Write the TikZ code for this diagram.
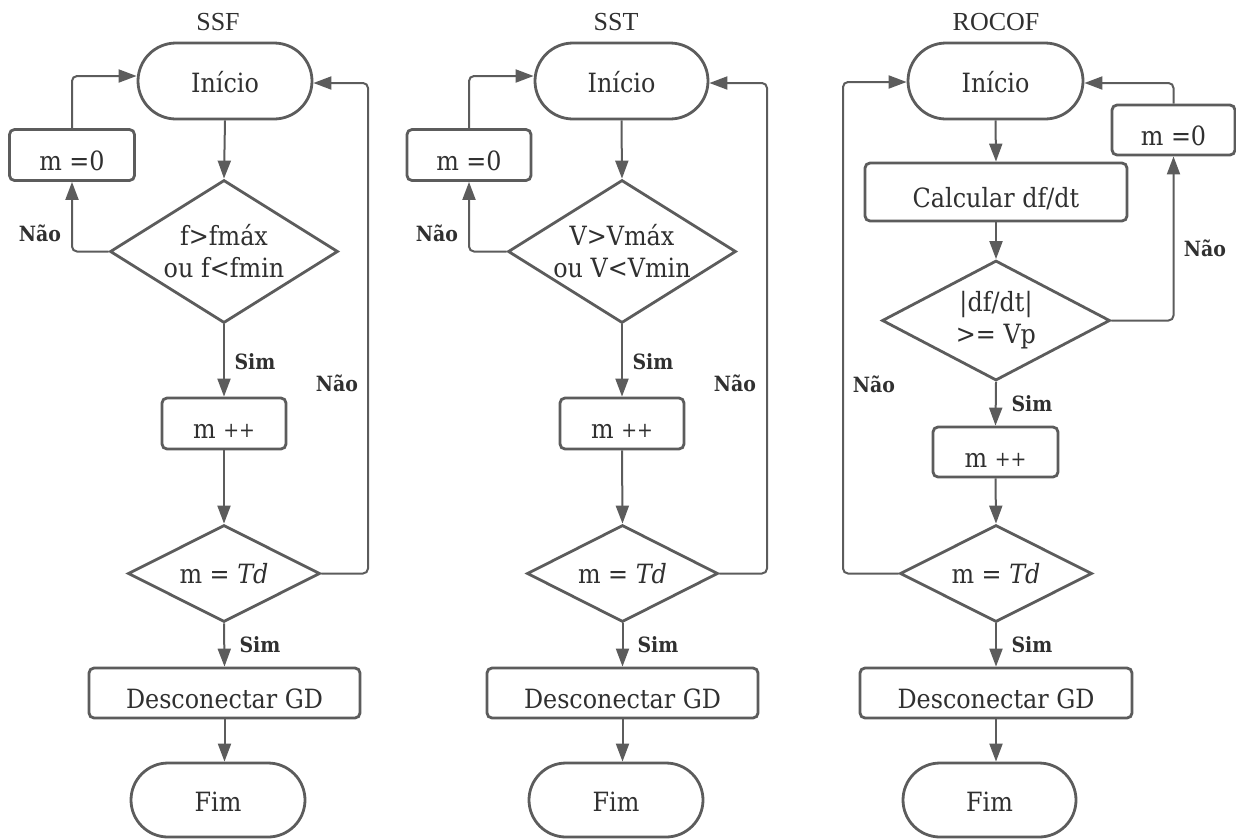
\documentclass[tikz,border=0pt]{standalone}
\usepackage{fontspec}
\setmainfont{DejaVu Serif}[FakeStretch=0.9]
\newfontfamily\titlefont{Liberation Serif}
\usetikzlibrary{shapes.geometric,shapes.misc,arrows.meta}
\definecolor{linec}{RGB}{92,92,92}
\definecolor{txtc}{RGB}{48,48,48}
\newcommand{\incr}{m \raisebox{1pt}{\fontsize{21}{21}\selectfont ++}}

\begin{document}
\begin{tikzpicture}[x=1pt,y=-1pt,
  base/.style={draw=linec, line width=2.8pt, fill=white, text=txtc,
    font=\fontsize{26.5}{32}\selectfont, inner sep=0pt},
  size/.style 2 args={minimum width=#1pt, minimum height=#2pt},
  proc/.style={base, rectangle, rounded corners=5pt, text height=30pt, text depth=0pt},
  term/.style={base, rounded rectangle, text height=22pt, text depth=0pt},
  dec/.style={base, diamond, aspect=1.6, align=center},
  conn/.style={draw=linec, line width=2pt, rounded corners=5pt,
    -{Triangle[length=18pt,width=13pt]}},
  lab/.style={text=txtc, font=\bfseries\fontsize{21}{24}\selectfont, inner sep=0pt},
  ttl/.style={text=txtc, font=\titlefont\fontsize{26}{30}\selectfont,
    inner sep=0pt, text height=17pt, text depth=0pt}
]
\useasboundingbox (0,0) rectangle (1236,839);

% ---------------- SSF ----------------
\node[ttl] (t1) at (218,21.5) {SSF};
\node[term, size={174}{76}] (ini1) at (225,81) {Início};
\node[proc, size={125}{51}] (z1) at (72,155) {m =0};
\node[dec, size={228}{143}] (da1) at (224,251.5) {f>fmáx\\ou f<fmin};
\node[proc, size={124}{51}] (p1) at (224,423.5) {\incr};
\node[dec, size={192}{97}, text height=19.3pt, text depth=0pt] (db1) at (224,573.5) {m = \textit{Td}};
\node[proc, size={271}{50}] (g1) at (224.5,693) {Desconectar GD};
\node[term, size={174}{74}] (f1) at (218,800) {Fim};
\coordinate (r1) at (368,83);

\draw[conn] (ini1.south) -- (da1.north);
\draw[conn] (da1.west) -| (z1.south);
\draw[conn] (z1.north) |- ([yshift=5pt]ini1.west);
\draw[conn] (da1.south) -- (p1.north);
\draw[conn] (p1.south) -- (db1.north);
\draw[conn] (db1.east) -| (r1) -- ([yshift=-2pt]ini1.east);
\draw[conn] (db1.south) -- (g1.north);
\draw[conn] (g1.south) -- (g1.south |- f1.north);

\node[lab] (n1a) at (40,233) {Não};
\node[lab] (s1a) at (255,362) {Sim};
\node[lab] (n1b) at (337,383) {Não};
\node[lab] (s1b) at (260,645) {Sim};

% ---------------- SST ----------------
\node[ttl] (t2) at (616,21.5) {SST};
\node[term, size={173}{76}] (ini2) at (621.5,81) {Início};
\node[proc, size={124}{51}] (z2) at (469,155) {m =0};
\node[dec, size={228}{143}] (da2) at (622,251.5) {V>Vmáx\\ou V<Vmin};
\node[proc, size={124}{51}] (p2) at (622,423.5) {\incr};
\node[dec, size={191}{97}, text height=19.3pt, text depth=0pt] (db2) at (622.5,573.5) {m = \textit{Td}};
\node[proc, size={271}{50}] (g2) at (622.5,693) {Desconectar GD};
\node[term, size={174}{74}] (f2) at (616,800) {Fim};
\coordinate (r2) at (767,83);

\draw[conn] (ini2.south) -- (da2.north);
\draw[conn] (da2.west) -| (z2.south);
\draw[conn] (z2.north) |- ([yshift=5pt]ini2.west);
\draw[conn] (da2.south) -- (p2.north);
\draw[conn] (p2.south) -- (db2.north);
\draw[conn] (db2.east) -| (r2) -- ([yshift=-2pt]ini2.east);
\draw[conn] (db2.south) -- (g2.north);
\draw[conn] (g2.south) -- (g2.south |- f2.north);

\node[lab] (n2a) at (437,233) {Não};
\node[lab] (s2a) at (653,362) {Sim};
\node[lab] (n2b) at (735,383) {Não};
\node[lab] (s2b) at (658,645) {Sim};

% ---------------- ROCOF ----------------
\node[ttl] (t3) at (996,21.5) {ROCOF};
\node[term, size={175}{76}] (ini3) at (995.5,81) {Início};
\node[proc, size={123}{50}] (z3) at (1173.5,130) {m =0};
\node[proc, size={262}{58}] (c3) at (996,192) {Calcular df/dt};
\node[dec, size={228}{120}] (da3) at (996,320.5) {|df/dt|\\>= Vp};
\node[proc, size={125}{50}] (p3) at (995.5,452) {\incr};
\node[dec, size={192}{97}, text height=19.3pt, text depth=0pt] (db3) at (996,573.5) {m = \textit{Td}};
\node[proc, size={272}{50}] (g3) at (996,693) {Desconectar GD};
\node[term, size={173}{74}] (f3) at (989.5,800) {Fim};
\coordinate (l3) at (843,82);

\draw[conn] (ini3.south) -- (c3.north);
\draw[conn] (c3.south) -- (da3.north);
\draw[conn] (da3.east) -| (z3.south);
\draw[conn] (z3.north) |- ([yshift=-2pt]ini3.east);
\draw[conn] (da3.south) -- (p3.north);
\draw[conn] (p3.south) -- (db3.north);
\draw[conn] (db3.west) -| (l3) -- ([yshift=-1pt]ini3.west);
\draw[conn] (db3.south) -- (g3.north);
\draw[conn] (g3.south) -- (g3.south |- f3.north);

\node[lab] (n3a) at (1205,248) {Não};
\node[lab] (s3a) at (1032,404) {Sim};
\node[lab] (n3b) at (874,384) {Não};
\node[lab] (s3b) at (1032,645) {Sim};
\end{tikzpicture}
\end{document}
